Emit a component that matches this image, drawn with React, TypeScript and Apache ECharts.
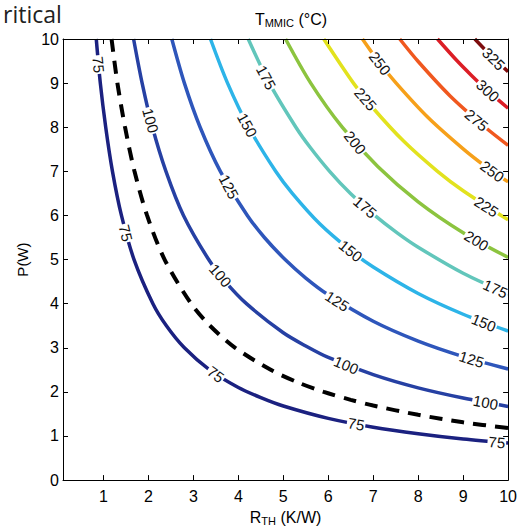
import React, { useEffect, useRef } from "react";
import * as echarts from "echarts";

// Contour levels (°C) and their colours (jet colormap)
const levels = [75, 100, 125, 150, 175, 200, 225, 250, 275, 300, 325];
const levelColors = [
  "#1b2180", "#2640a3", "#2e56bb", "#2db4e8", "#62c6bb", "#8cc43f",
  "#e2e21e", "#f6a01a", "#f0581f", "#dc1e26", "#7e0d0d",
];

// Contour lines: [R_TH (K/W), P (W)]
const curve75 = [[0.84,10],[0.93,9],[1.05,8],[1.2,7],[1.4,6],[1.68,5],[2.1,4],[2.4,3.5],[2.8,3],[3.36,2.5],[4,2.1],[4.5,1.87],[5,1.68],[6,1.4],[7,1.2],[8,1.05],[9,0.93],[10,0.84]];
const curve100 = [[1.67,10],[1.86,9],[2.09,8],[2.39,7],[2.78,6],[3.34,5],[3.71,4.5],[4.18,4],[5,3.34],[5.5,3.04],[6,2.78],[7,2.39],[8,2.09],[9,1.86],[10,1.67]];
const curve125 = [[2.52,10],[2.8,9],[3.15,8],[3.6,7],[4.2,6],[4.58,5.5],[5.04,5],[5.5,4.58],[6,4.2],[7,3.6],[8,3.15],[9,2.8],[10,2.52]];
const curve150 = [[3.38,10],[3.76,9],[4.23,8],[4.83,7],[5.2,6.5],[5.81,5.81],[6.5,5.2],[7,4.83],[8,4.23],[9,3.76],[10,3.38]];
const curve175 = [[4.22,10],[4.69,9],[5.28,8],[5.6,7.54],[6.03,7],[6.5,6.49],[7,6.03],[7.54,5.6],[8,5.28],[9,4.69],[10,4.22]];
const curve200 = [[5.05,10],[5.61,9],[6.31,8],[7.1,7.11],[8,6.31],[9,5.61],[10,5.05]];
const curve225 = [[5.9,10],[6.56,9],[7.0,8.43],[7.68,7.68],[8.43,7.0],[9,6.56],[10,5.9]];
const curve250 = [[6.76,10],[7.11,9.5],[7.51,9],[8.22,8.22],[9,7.51],[9.5,7.11],[10,6.76]];
const curve275 = [[7.59,10],[8,9.49],[8.71,8.71],[9.49,8],[10,7.59]];
const curve300 = [[8.43,10],[8.87,9.5],[9.18,9.18],[9.5,8.87],[10,8.43]];
const curve325 = [[9.26,10],[9.62,9.62],[10,9.26]];
const contourCurves = [curve75, curve100, curve125, curve150, curve175, curve200, curve225, curve250, curve275, curve300, curve325];

// Dashed "critical" line
const criticalCurve = [[1.18,10],[1.31,9],[1.48,8],[1.69,7],[1.97,6],[2.36,5],[2.95,4],[3.37,3.5],[3.93,3],[4.72,2.5],[5.36,2.2],[5.9,2.0],[6.5,1.82],[7,1.69],[8,1.48],[9,1.31],[10,1.18]];

// Inline contour labels: [R, P, level]
const contourLabels = [
  [0.89,9.42,75],[1.5,5.6,75],[3.5,2.4,75],[6.62,1.27,75],[9.75,0.86,75],
  [2.05,8.15,100],[3.6,4.64,100],[6.4,2.61,100],[9.5,1.76,100],
  [3.79,6.65,125],[6.2,4.06,125],[9.19,2.74,125],
  [4.2,8.05,150],[6.5,5.2,150],[9.46,3.57,150],
  [4.62,9.13,175],[6.82,6.19,175],[9.72,4.34,175],
  [6.6,7.65,200],[9.3,5.43,200],
  [6.83,8.64,225],[9.52,6.2,225],
  [7.15,9.45,250],[9.65,7.0,250],
  [9.3,8.16,275],
  [9.55,8.83,300],
  [9.68,9.55,325],
];

const xTickValues = [1, 2, 3, 4, 5, 6, 7, 8, 9, 10];
const yTickValues = [0, 1, 2, 3, 4, 5, 6, 7, 8, 9, 10];

const FONT = '"Liberation Sans", Arial, Helvetica, sans-serif';

export default function App() {
  const ref = useRef<HTMLDivElement>(null);
  useEffect(() => {
    if (!ref.current) return;
    const chart = echarts.init(ref.current, null, { renderer: "svg" });

    const series: any[] = contourCurves.map((pts, i) => ({
      type: "line",
      name: String(levels[i]),
      data: pts,
      symbol: "none",
      smooth: 0.3,
      silent: true,
      lineStyle: { color: levelColors[i], width: 3.5 },
      z: 2,
    }));
    series.push({
      type: "line",
      name: "critical",
      data: criticalCurve,
      symbol: "none",
      smooth: 0.3,
      silent: true,
      lineStyle: { color: "#000", width: 4, type: [13, 9] },
      z: 3,
    });
    series.push({
      type: "custom",
      name: "labels",
      data: contourLabels,
      silent: true,
      z: 5,
      renderItem: (params: any, api: any) => {
        const R = api.value(0);
        const P = api.value(1);
        const lvl = api.value(2);
        const idx = levels.indexOf(lvl);
        const pts = contourCurves[idx];
        const c = api.coord([R, P]);
        const px = pts.map((p) => api.coord(p));
        let best = 0;
        let bd = Infinity;
        px.forEach((q: number[], k: number) => {
          const d = (q[0] - c[0]) ** 2 + (q[1] - c[1]) ** 2;
          if (d < bd) { bd = d; best = k; }
        });
        const a = px[Math.max(0, best - 1)];
        const b = px[Math.min(px.length - 1, best + 1)];
        const rot = -Math.atan2(b[1] - a[1], b[0] - a[0]);
        return {
          type: "text",
          x: c[0],
          y: c[1],
          rotation: rot,
          style: {
            text: String(lvl),
            font: `15px ${FONT}`,
            fill: "#111",
            align: "center",
            verticalAlign: "middle",
            backgroundColor: "#fff",
            padding: [0, 1],
          },
        };
      },
    });

    const axisCommon = {
      type: "value",
      axisLine: { show: true, onZero: false, lineStyle: { color: "#000", width: 1 } },
      splitLine: { show: false },
      z: 10,
    };

    chart.setOption({
      animation: false,
      backgroundColor: "#fff",
      textStyle: { fontFamily: FONT },
      grid: { left: 63, right: 11, top: 39, bottom: 44 },
      title: {
        text: "{a|T}{b|MMIC}{a| (°C)}",
        left: 286,
        top: 5,
        textAlign: "center",
        textStyle: {
          fontWeight: "normal",
          rich: {
            a: { fontSize: 16, color: "#000", fontFamily: FONT, fontWeight: "normal" },
            b: { fontSize: 11, color: "#000", fontFamily: FONT, fontWeight: "normal", padding: [7, 0, 0, 0] },
          },
        },
      },
      xAxis: [
        {
          ...axisCommon,
          position: "bottom",
          min: 0.1,
          max: 10,
          axisTick: { show: true, inside: true, length: 5, customValues: xTickValues, lineStyle: { color: "#000" } },
          axisLabel: { customValues: xTickValues, color: "#000", fontSize: 16, margin: 8, fontFamily: FONT },
          name: "{a|R}{b|TH}{a| (K/W)}",
          nameLocation: "middle",
          nameGap: 22,
          nameTextStyle: {
            rich: {
              a: { fontSize: 16, color: "#000", fontFamily: FONT },
              b: { fontSize: 11, color: "#000", fontFamily: FONT, padding: [7, 0, 0, 0] },
            },
          },
        },
        {
          ...axisCommon,
          position: "top",
          min: 0.1,
          max: 10,
          axisTick: { show: true, inside: true, length: 5, customValues: xTickValues, lineStyle: { color: "#000" } },
          axisLabel: { show: false },
        },
      ],
      yAxis: [
        {
          ...axisCommon,
          position: "left",
          min: 0,
          max: 10,
          interval: 1,
          axisTick: { show: true, inside: true, length: 5, customValues: yTickValues, lineStyle: { color: "#000" } },
          axisLabel: { customValues: yTickValues, color: "#000", fontSize: 16, margin: 4, fontFamily: FONT },
          name: "P(W)",
          nameLocation: "middle",
          nameGap: 30,
          nameTextStyle: { fontSize: 15, color: "#000", fontFamily: FONT },
        },
        {
          ...axisCommon,
          position: "right",
          min: 0,
          max: 10,
          interval: 1,
          axisTick: { show: true, inside: true, length: 5, customValues: yTickValues, lineStyle: { color: "#000" } },
          axisLabel: { show: false },
        },
      ],
      graphic: [
        {
          type: "text",
          x: 3,
          y: 2,
          silent: true,
          style: {
            text: "ritical",
            font: '23px "Open Sans", sans-serif',
            fill: "#222",
            align: "left",
            verticalAlign: "top",
          },
        },
      ],
      series,
    });

    return () => chart.dispose();
  }, []);
  return <div ref={ref} style={{ position: "absolute", left: 0, top: 0, width: 520, height: 531 }} />;
}
